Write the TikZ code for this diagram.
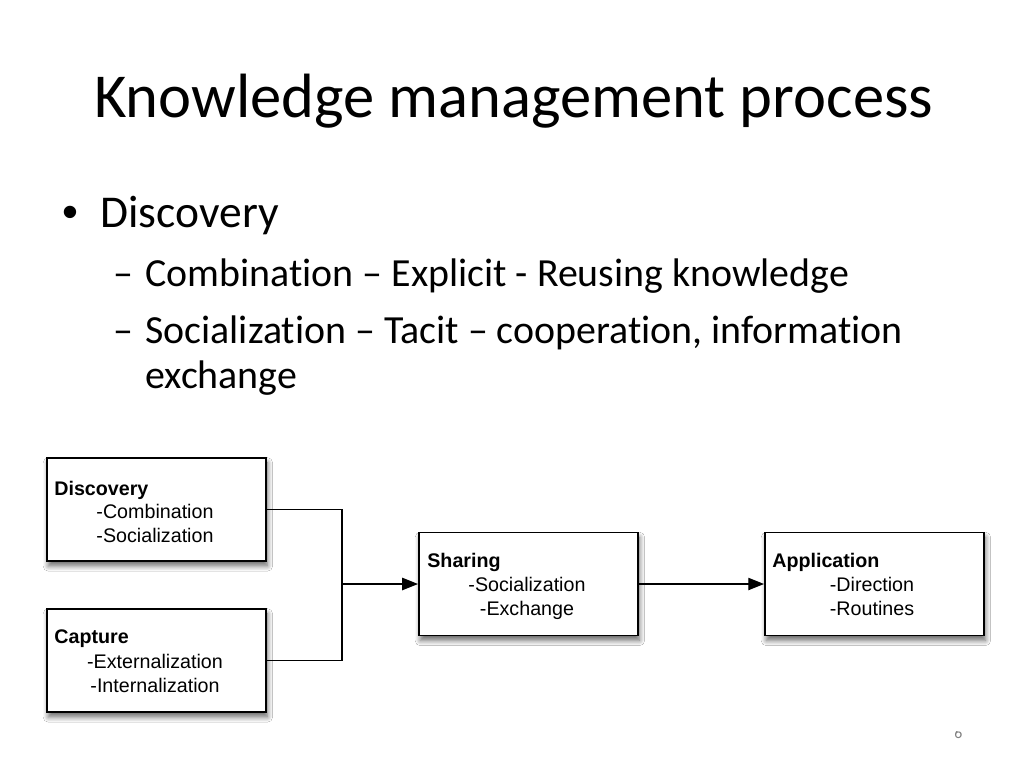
\documentclass[tikz,border=0pt]{standalone}
\usepackage{fontspec}
\setmainfont{Carlito}[Ligatures=NoCommon]
\newfontfamily\boxfont{Liberation Sans}
\usetikzlibrary{arrows.meta,shadows.blur}

\tikzset{
  stage/.style={draw,line width=1.1pt,fill=white,minimum width=4.38cm,minimum height=2.06cm,
    blur shadow={shadow blur steps=8,shadow xshift=0.8pt,shadow yshift=-2.8pt,shadow opacity=60,shadow blur radius=3pt}},
  head/.style={anchor=base west,inner sep=0pt,font=\boxfont\bfseries\fontsize{11.2}{13}\selectfont},
  item/.style={anchor=base,inner sep=0pt,font=\boxfont\fontsize{11.2}{13}\selectfont},
  link/.style={line width=0.8pt},
  flow/.style={line width=0.8pt,-{Triangle[length=9pt,width=7pt]}},
  line/.style={anchor=base west,inner sep=0pt}
}

\begin{document}
\begin{tikzpicture}[x=0.02cm,y=-0.02cm]
\useasboundingbox[fill=white] (0,0) rectangle (1024,768);

% title and bullets
\node[line,font=\fontsize{35.6}{42}\selectfont] (title) at (94,117) {Knowledge management process};
\node[line,font=\boxfont\fontsize{25.9}{31}\selectfont] (bul) at (62,227) {\textbullet};
\node[line,font=\fontsize{25.9}{31}\selectfont] (disc0) at (100,227) {Discovery};
\node[line,font=\fontsize{22.7}{27}\selectfont] (dash1) at (113,286) {–};
\node[line,font=\fontsize{22.7}{27}\selectfont] (comb0) at (145,286) {Combination – Explicit - Reusing knowledge};
\node[line,font=\fontsize{22.7}{27}\selectfont] (dash2) at (113,343) {–};
\node[line,font=\fontsize{22.7}{27}\selectfont] (soc0) at (145,343) {Socialization – Tacit – cooperation, information};
\node[line,font=\fontsize{22.7}{27}\selectfont] (soc1) at (145,388) {exchange};

% boxes
\node[stage] (disc) at (156.5,509.5) {};
\node[stage] (capt) at (156.5,660.5) {};
\node[stage] (shar) at (528.5,584) {};
\node[stage] (appl) at (874.5,584) {};

\node[head] (discH) at (54,495) {Discovery};
\node[item] (discA) at (155,518) {-Combination};
\node[item] (discB) at (155,542) {-Socialization};

\node[head] (captH) at (54,643) {Capture};
\node[item] (captA) at (155,668) {-Externalization};
\node[item] (captB) at (155,692) {-Internalization};

\node[head] (sharH) at (427,567) {Sharing};
\node[item] (sharA) at (527,591) {-Socialization};
\node[item] (sharB) at (527,615) {-Exchange};

\node[head] (applH) at (772,567) {Application};
\node[item] (applA) at (872,591) {-Direction};
\node[item] (applB) at (872,615) {-Routines};

% connectors
\coordinate (join) at (342,584);
\draw[link] (disc.east) -| (join);
\draw[link] (capt.east) -| (join);
\draw[flow] (join) -- (shar.west);
\draw[flow] (shar.east) -- (appl.west);

% page number, cut by the lower edge
\begin{scope}
\clip (940,731) rectangle (980,768);
\node[line,text=gray,font=\fontsize{9}{11}\selectfont] (pnum) at (954,738) {6};
\end{scope}
\end{tikzpicture}
\end{document}
